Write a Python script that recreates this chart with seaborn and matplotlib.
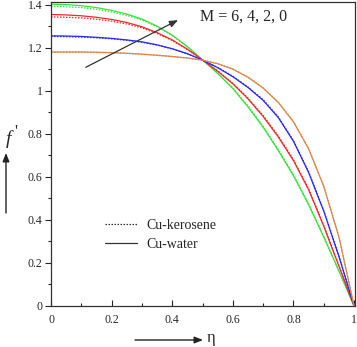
import numpy as np
import pandas as pd
import matplotlib
matplotlib.use("Agg")
import matplotlib.pyplot as plt
from matplotlib.lines import Line2D
from matplotlib.ticker import MultipleLocator
import seaborn as sns

# Dimensionless distance across the channel
eta = [0.0, 0.05, 0.1, 0.15, 0.2, 0.25, 0.3, 0.35, 0.4, 0.45, 0.5,
       0.55, 0.6, 0.65, 0.7, 0.75, 0.8, 0.85, 0.9, 0.95, 1.0]

# Velocity profiles f'(eta), Cu-water
water_M6 = [1.402, 1.400, 1.395, 1.386, 1.373, 1.356, 1.333, 1.300, 1.258, 1.205, 1.143,
            1.080, 1.010, 0.925, 0.830, 0.722, 0.605, 0.470, 0.320, 0.162, 0.0]
water_M4 = [1.354, 1.352, 1.348, 1.341, 1.331, 1.317, 1.297, 1.270, 1.236, 1.193, 1.143,
            1.090, 1.032, 0.962, 0.880, 0.785, 0.675, 0.540, 0.370, 0.185, 0.0]
water_M2 = [1.255, 1.254, 1.252, 1.248, 1.243, 1.236, 1.227, 1.213, 1.195, 1.172, 1.142,
            1.107, 1.065, 1.015, 0.955, 0.875, 0.765, 0.620, 0.440, 0.230, 0.0]
water_M0 = [1.180, 1.180, 1.180, 1.179, 1.177, 1.174, 1.170, 1.165, 1.159, 1.152, 1.142,
            1.125, 1.100, 1.062, 1.012, 0.945, 0.855, 0.730, 0.555, 0.320, 0.0]

# Velocity profiles f'(eta), Cu-kerosene
kero_M6 = [1.392, 1.390, 1.386, 1.378, 1.366, 1.350, 1.328, 1.297, 1.256, 1.204, 1.143,
           1.082, 1.013, 0.929, 0.835, 0.727, 0.610, 0.475, 0.324, 0.164, 0.0]
kero_M4 = [1.343, 1.341, 1.338, 1.332, 1.323, 1.310, 1.292, 1.266, 1.233, 1.191, 1.143,
           1.092, 1.035, 0.966, 0.885, 0.790, 0.680, 0.545, 0.374, 0.187, 0.0]
kero_M2 = [1.252, 1.251, 1.249, 1.246, 1.241, 1.234, 1.225, 1.212, 1.194, 1.171, 1.142,
           1.108, 1.067, 1.017, 0.958, 0.878, 0.768, 0.623, 0.443, 0.232, 0.0]
kero_M0 = [1.178, 1.178, 1.178, 1.177, 1.176, 1.173, 1.169, 1.164, 1.158, 1.151, 1.142,
           1.126, 1.101, 1.064, 1.014, 0.947, 0.857, 0.732, 0.557, 0.322, 0.0]

M_values = ["6", "4", "2", "0"]
fluids = ["Cu-kerosene", "Cu-water"]
colors = {"6": "#3ce03c", "4": "#f02a2a", "2": "#2a2af0", "0": "#d8894c"}

x_ticks = [0, 0.2, 0.4, 0.6, 0.8, 1]
x_tick_labels = ["0", "0.2", "0.4", "0.6", "0.8", "1"]
y_ticks = [0, 0.2, 0.4, 0.6, 0.8, 1, 1.2, 1.4]
y_tick_labels = ["0", "0.2", "0.4", "0.6", "0.8", "1", "1.2", "1.4"]

series = {
    ("Cu-water", "6"): water_M6, ("Cu-water", "4"): water_M4,
    ("Cu-water", "2"): water_M2, ("Cu-water", "0"): water_M0,
    ("Cu-kerosene", "6"): kero_M6, ("Cu-kerosene", "4"): kero_M4,
    ("Cu-kerosene", "2"): kero_M2, ("Cu-kerosene", "0"): kero_M0,
}
rows = []
for (fluid, m), vals in series.items():
    for e, v in zip(eta, vals):
        rows.append({"eta": e, "fp": v, "M": m, "fluid": fluid})
df = pd.DataFrame(rows)

sns.set_style("ticks")
plt.rcParams["font.family"] = ["Liberation Serif", "DejaVu Serif"]

fig = plt.figure(figsize=(3.57, 3.47), dpi=100)
ax = fig.add_axes([0.1429, 0.1182, 0.8515, 0.876])

sns.lineplot(data=df, x="eta", y="fp", hue="M", style="fluid",
             hue_order=M_values, style_order=fluids, palette=colors,
             dashes={"Cu-water": "", "Cu-kerosene": (1.2, 1.2)},
             linewidth=0.9, legend=False, ax=ax, sort=False)

ax.set_xlim(0, 1.003)
ax.set_ylim(0, 1.412)
ax.set_xticks(x_ticks)
ax.set_xticklabels(x_tick_labels)
ax.set_yticks(y_ticks)
ax.set_yticklabels(y_tick_labels)
ax.xaxis.set_minor_locator(MultipleLocator(0.1))
ax.yaxis.set_minor_locator(MultipleLocator(0.1))
ax.tick_params(axis="x", which="major", direction="in", length=4, width=0.8,
               labelsize=8.5, pad=6, top=False)
ax.tick_params(axis="x", which="minor", direction="in", length=2.5, width=0.8, top=False)
ax.tick_params(axis="y", which="major", direction="out", length=4, width=0.8,
               labelsize=8.5, pad=2, right=False)
ax.tick_params(axis="y", which="minor", direction="out", length=2.5, width=0.8, right=False)
ax.set_xlabel("")
ax.set_ylabel("")
for s in ax.spines.values():
    s.set_linewidth(0.9)
    s.set_color("#333333")
    s.set_visible(True)

# Direction of increasing magnetic parameter
ax.annotate("", xy=(0.419, 1.328), xytext=(0.115, 1.109),
            arrowprops=dict(arrowstyle="-|>,head_length=0.5,head_width=0.2",
                            color="#333333", lw=0.9, shrinkA=0, shrinkB=0))
ax.text(0.492, 1.342, "M = 6, 4, 2, 0", fontsize=11.5, va="center", ha="left")

handles = [Line2D([], [], color="#333333", lw=0.9, linestyle=(0, (1.2, 1.2))),
           Line2D([], [], color="#333333", lw=0.9, linestyle="-")]
ax.legend(handles, fluids, loc="upper left", bbox_to_anchor=(0.178, 0.285),
          frameon=False, fontsize=10, handlelength=2.3, handletextpad=0.7,
          labelspacing=0.4, borderpad=0, borderaxespad=0)

# Axis labels with pointing arrows
fig.text(8 / 357, 1 - 139 / 347, "f", fontsize=14, style="italic",
         ha="center", va="center")
fig.text(15.5 / 357, 1 - 132 / 347, "'", fontsize=12,
         ha="center", va="center")
arrow_kw = dict(arrowstyle="-|>,head_length=0.5,head_width=0.2",
                color="#222222", lw=1.0, shrinkA=0, shrinkB=0)
ax.annotate("", xy=(6 / 357, 1 - 153 / 347), xytext=(6 / 357, 1 - 213 / 347),
            xycoords="figure fraction", textcoords="figure fraction",
            arrowprops=arrow_kw, annotation_clip=False)
ax.annotate("", xy=(203 / 357, 1 - 340 / 347), xytext=(135 / 357, 1 - 340 / 347),
            xycoords="figure fraction", textcoords="figure fraction",
            arrowprops=arrow_kw, annotation_clip=False)
fig.text(211 / 357, 1 - 338 / 347, "η", fontsize=12, ha="center", va="center")

fig.savefig("out.png", dpi=100)
